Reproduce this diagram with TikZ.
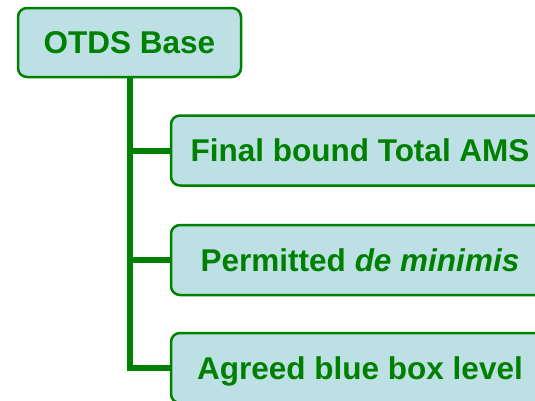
\documentclass[tikz,border=0pt]{standalone}
\usepackage{fontspec}
\setmainfont{Liberation Sans}
\usetikzlibrary{backgrounds}
\definecolor{boxfill}{RGB}{188,224,228}
\definecolor{dkgreen}{RGB}{0,128,0}
\tikzset{
  boxstyle/.style={draw=dkgreen, line width=2.5pt, fill=boxfill, rounded corners=9pt,
    text=dkgreen, font=\fontsize{31.5}{37}\selectfont\bfseries, inner sep=0pt, align=center,
    text height=22.5pt, text depth=0pt},
  rootbox/.style={boxstyle, minimum width=223pt, minimum height=69pt},
  childbox/.style={boxstyle, minimum width=378pt, minimum height=70pt},
  conn/.style={draw=dkgreen, line width=6pt}
}
\begin{document}
\begin{tikzpicture}[x=1pt,y=-1pt]
\useasboundingbox (0,0) rectangle (535,400);
\clip (0,0) rectangle (535,400);
\node[rootbox] (root) at (129.5,42.5) {OTDS Base};
\node[childbox] (c1) at (360,150.5) {Final bound Total AMS};
\node[childbox] (c2) at (360,260) {Permitted \textit{de minimis}};
\node[childbox] (c3) at (360,368) {Agreed blue box level};
\begin{scope}[on background layer]
\draw[conn] (root.south) -- (root.south |- c3.west) -- (c3.west);
\draw[conn] (root.south |- c1.west) -- (c1.west);
\draw[conn] (root.south |- c2.west) -- (c2.west);
\end{scope}
\end{tikzpicture}
\end{document}
